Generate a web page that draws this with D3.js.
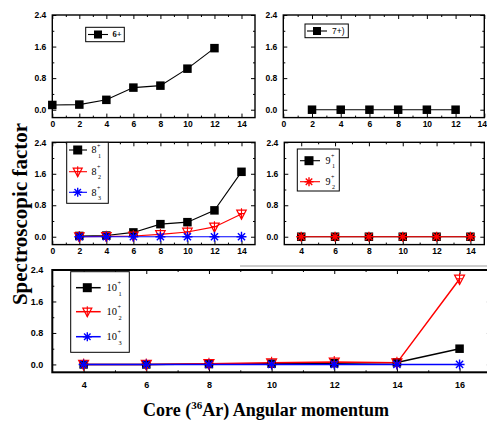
<!DOCTYPE html>
<html><head><meta charset="utf-8">
<script src="https://cdn.jsdelivr.net/npm/d3@7"></script>
<style>body{margin:0;background:#fff}svg{display:block}</style>
</head><body>
<script>
// ---- data ----
const x6 = [0,2,4,6,8,10,12];
const v6 = [0.12,0.13,0.25,0.56,0.61,1.04,1.56];
const x7 = [2,4,6,8,10,12];
const v7 = [0,0,0,0,0,0];
const x8 = [2,4,6,8,10,12,14];
const v8_1 = [0.02,0.03,0.11,0.32,0.37,0.67,1.65];
const v8_2 = [0.0,0.01,0.02,0.06,0.12,0.25,0.58];
const v8_3 = [0,0,0,0,0,0,0];
const x9 = [4,6,8,10,12,14];
const v9_1 = [0,0,0,0,0,0];
const v9_2 = [0,0,0,0,0,0];
const x10 = [4,6,8,10,12,14,16];
const v10_1 = [0,0,0.01,0.02,0.03,0.05,0.40];
const v10_2 = [0,0,0.02,0.04,0.06,0.04,2.17];
const v10_3 = [0,0,0,0,0,0,0];
const yTicks = [0,0.8,1.6,2.4];
const yMinor = [0.4,1.2,2.0];
const xTicksA = [0,2,4,6,8,10,12,14];
const xTicksB = [4,6,8,10,12,14];
const xTicksC = [4,6,8,10,12,14,16];
const yTitle = "Spectroscopic factor";

const W = 487, H = 437;
const svg = d3.select("body").append("svg").attr("width", W).attr("height", H);
const SANS = "'Liberation Sans', Arial, sans-serif";
const SERIF = "'Liberation Serif', 'Times New Roman', serif";

function marker(g, type, cx, cy, s, color) {
  if (type === "sq") {
    g.append("rect").attr("x", cx - s/2).attr("y", cy - s/2).attr("width", s).attr("height", s).attr("fill", color);
  } else if (type === "tri") {
    const h = s * 0.5;
    g.append("path").attr("d", `M${cx-h},${cy-h*0.8}L${cx+h},${cy-h*0.8}L${cx},${cy+h*1.1}Z`)
      .attr("fill", "none").attr("stroke", color).attr("stroke-width", 1.2);
    g.append("path").attr("d", `M${cx},${cy-h*1.2}L${cx},${cy+h*1.1}M${cx-h*0.55},${cy-h*0.05}L${cx+h*0.55},${cy-h*0.05}`)
      .attr("stroke", color).attr("stroke-width", 1.1);
  } else if (type === "star") {
    const r = s/2, d = r*0.72;
    g.append("path").attr("d", `M${cx-r},${cy}L${cx+r},${cy}M${cx},${cy-r}L${cx},${cy+r}M${cx-d},${cy-d}L${cx+d},${cy+d}M${cx-d},${cy+d}L${cx+d},${cy-d}`)
      .attr("stroke", color).attr("stroke-width", 1.4);
  }
}

function panel(c) {
  const g = svg.append("g");
  const x = d3.scaleLinear().domain(c.xd).range([c.l, c.r]);
  const y = d3.scaleLinear().domain([-0.2, 2.4]).range([c.b, c.t]);
  const fs = c.fs || 8.5;
  const xa = g.append("g").attr("transform", `translate(0,${c.b})`)
    .call(d3.axisBottom(x).tickValues(c.xt).tickSize(-4).tickPadding(c.xpad).tickFormat(d3.format("d")));
  const minorsX = c.xt.slice(0, -1).map(v => v + 1).concat([c.xt[0]-1]).filter(v => v > c.xd[0] && v < c.xd[1]);
  g.append("g").attr("transform", `translate(0,${c.b})`)
    .call(d3.axisBottom(x).tickValues(minorsX).tickSize(-2).tickFormat(""));
  g.append("g").attr("transform", `translate(0,${c.t})`)
    .call(d3.axisTop(x).tickValues(c.xt).tickSize(-4).tickFormat(""));
  g.append("g").attr("transform", `translate(0,${c.t})`)
    .call(d3.axisTop(x).tickValues(minorsX).tickSize(-2).tickFormat(""));
  g.append("g").attr("transform", `translate(${c.l},0)`)
    .call(d3.axisLeft(y).tickValues(yTicks).tickSize(-4).tickPadding(c.ypad).tickFormat(d3.format(".1f")));
  g.append("g").attr("transform", `translate(${c.l},0)`)
    .call(d3.axisLeft(y).tickValues(yMinor).tickSize(-2).tickFormat(""));
  g.append("g").attr("transform", `translate(${c.r},0)`)
    .call(d3.axisRight(y).tickValues(yTicks).tickSize(-4).tickFormat(""));
  g.append("g").attr("transform", `translate(${c.r},0)`)
    .call(d3.axisRight(y).tickValues(yMinor).tickSize(-2).tickFormat(""));
  g.selectAll(".domain").remove();
  g.selectAll(".tick line").attr("stroke", "#000").attr("stroke-width", 1);
  g.selectAll(".tick text").attr("font-family", SANS).attr("font-weight", "bold")
    .attr("font-size", fs).attr("fill", "#000");
  if (c.lastEnd) {
    const texts = xa.selectAll(".tick text").nodes();
    d3.select(texts[texts.length - 1]).attr("text-anchor", "end").attr("x", c.lastEnd);
  }
  // frame
  g.append("rect").attr("x", c.l).attr("y", c.t).attr("width", c.r - c.l).attr("height", c.b - c.t)
    .attr("fill", "none").attr("stroke", "#000").attr("stroke-width", c.fw || 1.4);
  // series
  const line = d3.line().x(d => x(d[0])).y(d => y(d[1]));
  c.series.forEach(s => {
    const pts = s.xs.map((v, i) => [v, s.vs[i]]);
    g.append("path").attr("d", line(pts)).attr("fill", "none").attr("stroke", s.color).attr("stroke-width", c.lw || 1.1);
  });
  c.series.forEach(s => {
    const mg = g.append("g");
    s.xs.forEach((v, i) => marker(mg, s.type, x(v), y(s.vs[i]), s.size || 8, s.color));
  });
  // legend
  const L = c.legend;
  g.append("rect").attr("x", L.x0).attr("y", L.y0).attr("width", L.x1 - L.x0).attr("height", L.y1 - L.y0)
    .attr("fill", "#fff").attr("stroke", "#000").attr("stroke-width", 1);
  L.items.forEach(it => {
    const s = c.series[it.si];
    g.append("line").attr("x1", L.lx0).attr("x2", L.lx1).attr("y1", it.y).attr("y2", it.y)
      .attr("stroke", s.color).attr("stroke-width", c.lw || 1.1);
    marker(g, s.type, L.mx, it.y, L.ms || 8, s.color);
    const t = g.append("text").attr("x", L.tx).attr("y", it.y + L.fs * 0.33)
      .attr("font-family", it.sans ? SANS : SERIF).attr("font-size", L.fs)
      .attr("font-weight", it.bold ? "bold" : "normal").attr("fill", "#000").text(it.label);
    if (it.sup) {
      const w = t.node().getComputedTextLength();
      g.append("text").attr("x", L.tx + w + 0.5).attr("y", it.y - L.fs * 0.25)
        .attr("font-family", SERIF).attr("font-size", L.fs * 0.6).text(it.sup);
      g.append("text").attr("x", L.tx + w + 1.5).attr("y", it.y + L.fs * 0.75)
        .attr("font-family", SERIF).attr("font-size", L.fs * 0.6).text(it.sub);
    }
  });
}

// top-left: 6+
panel({l: 52.3, r: 255, t: 15, b: 117.6, xd: [0, 15], xt: xTicksA, xpad: 3, ypad: 6,
  series: [{xs: x6, vs: v6, color: "#000", type: "sq", size: 8.5}],
  legend: {x0: 85.7, x1: 124.3, y0: 27.3, y1: 41.7, lx0: 88, lx1: 108, mx: 98, tx: 112.5, fs: 8.5, ms: 8,
    items: [{si: 0, y: 34.5, label: "6+", bold: true}]}
});
// top-right: 7+
panel({l: 283.3, r: 484.3, t: 15, b: 117.6, xd: [0, 14], xt: xTicksA, xpad: 3, ypad: 6, lastEnd: 2.2,
  series: [{xs: x7, vs: v7, color: "#000", type: "sq", size: 8.5}],
  legend: {x0: 305, x1: 348.3, y0: 24, y1: 37.7, lx0: 307, lx1: 327, mx: 317, tx: 332, fs: 8.5, ms: 8,
    items: [{si: 0, y: 31, label: "7+)", sans: true}]}
});
// middle-left: 8+
panel({l: 52.3, r: 255, t: 142.3, b: 244.6, xd: [0, 15], xt: xTicksA, xpad: 3, ypad: 6,
  series: [{xs: x8, vs: v8_1, color: "#000", type: "sq", size: 8.5},
           {xs: x8, vs: v8_2, color: "#ff0000", type: "tri", size: 9.5},
           {xs: x8, vs: v8_3, color: "#0000ff", type: "star", size: 10}],
  legend: {x0: 66.7, x1: 108.3, y0: 142.3, y1: 203.3, lx0: 69, lx1: 87, mx: 77.7, tx: 91.5, fs: 10, ms: 9,
    items: [{si: 0, y: 150, label: "8", sup: "+", sub: "1"},
            {si: 1, y: 171.7, label: "8", sup: "+", sub: "2"},
            {si: 2, y: 192.3, label: "8", sup: "+", sub: "3"}]}
});
// middle-right: 9+
panel({l: 284.3, r: 484.3, t: 142.3, b: 244.6, xd: [3, 14.82], xt: xTicksB, xpad: 3, ypad: 6,
  series: [{xs: x9, vs: v9_1, color: "#000", type: "sq", size: 8.5},
           {xs: x9, vs: v9_2, color: "#ff0000", type: "star", size: 10}],
  legend: {x0: 297.3, x1: 339.3, y0: 149, y1: 191, lx0: 300, lx1: 320, mx: 309, tx: 325.5, fs: 10, ms: 9,
    items: [{si: 0, y: 160.7, label: "9", sup: "+", sub: "1"},
            {si: 1, y: 181.7, label: "9", sup: "+", sub: "2"}]}
});
// separator line of the lower figure
svg.append("line").attr("x1", 240).attr("x2", 487).attr("y1", 266).attr("y2", 266)
  .attr("stroke", "#999").attr("stroke-width", 1);
// bottom: 10+
panel({l: 52.3, r: 490.9, t: 270, b: 372.3, xd: [3, 17], xt: xTicksC, xpad: 9, ypad: 9, fs: 9, fw: 2, lw: 1.5,
  series: [{xs: x10, vs: v10_1, color: "#000", type: "sq", size: 8.5},
           {xs: x10, vs: v10_2, color: "#ff0000", type: "tri", size: 10},
           {xs: x10, vs: v10_3, color: "#0000ff", type: "star", size: 10}],
  legend: {x0: 70.7, x1: 129.3, y0: 271.7, y1: 352.3, lx0: 76, lx1: 100.7, mx: 87.3, tx: 106.5, fs: 10.5, ms: 9,
    items: [{si: 0, y: 287.7, label: "10", sup: "+", sub: "1"},
            {si: 1, y: 311.7, label: "10", sup: "+", sub: "2"},
            {si: 2, y: 336.7, label: "10", sup: "+", sub: "3"}]}
});

// axis titles
svg.append("text").attr("transform", "translate(27,214) rotate(-90)").attr("text-anchor", "middle")
  .attr("font-family", SERIF).attr("font-weight", "bold").attr("font-size", 21).text(yTitle);
const xt = svg.append("text").attr("x", 266).attr("y", 416).attr("text-anchor", "middle")
  .attr("font-family", SERIF).attr("font-weight", "bold").attr("font-size", 18);
xt.append("tspan").text("Core (");
xt.append("tspan").attr("font-size", 11).attr("dy", -7).text("36");
xt.append("tspan").attr("dy", 7).text("Ar) Angular momentum");
</script>
</body></html>
